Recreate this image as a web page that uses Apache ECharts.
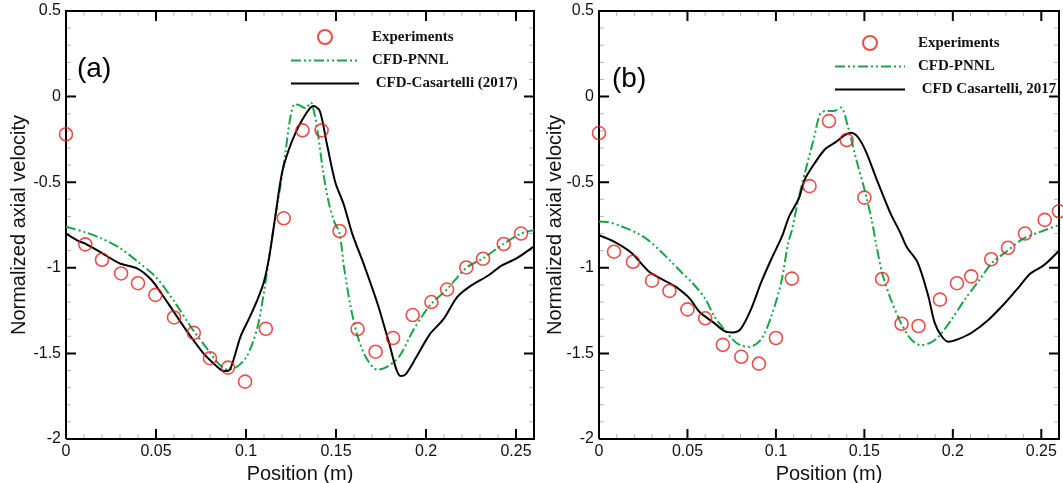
<!DOCTYPE html>
<html>
<head>
<meta charset="utf-8">
<title>Normalized axial velocity profiles</title>
<script src="https://cdn.jsdelivr.net/npm/echarts@6/dist/echarts.min.js"></script>
<style>
  html, body { margin: 0; padding: 0; background: #fff; }
  #chart { width: 1063px; height: 483px; background: #fff; }
</style>
</head>
<body>
<div id="chart"></div>
<script>
// Axis ranges and tick values (shared by both panels)
const X_MIN = 0, X_MAX = 0.26;
const Y_MIN = -2, Y_MAX = 0.5;
const xTickLabels = [0, 0.05, 0.1, 0.15, 0.2, 0.25];
const yTickLabels = [-2, -1.5, -1, -0.5, 0, 0.5];
const xMinorTicks = [0.01, 0.02, 0.03, 0.04, 0.06, 0.07, 0.08, 0.09, 0.11, 0.12, 0.13, 0.14,
                     0.16, 0.17, 0.18, 0.19, 0.21, 0.22, 0.23, 0.24];
const yMinorTicks = [-1.9, -1.8, -1.7, -1.6, -1.4, -1.3, -1.2, -1.1, -0.9, -0.8, -0.7, -0.6,
                     -0.4, -0.3, -0.2, -0.1, 0.1, 0.2, 0.3, 0.4];

// Series names
const namesA = ['Experiments', 'CFD-PNNL', ' CFD-Casartelli (2017)'];
const namesB = ['Experiments', 'CFD-PNNL', ' CFD Casartelli, 2017'];

// Panel (a): [position (m), normalized axial velocity]
const expA = [
  [0, -0.22], [0.0107, -0.863], [0.020, -0.953], [0.0306, -1.033], [0.040, -1.09],
  [0.0497, -1.158], [0.060, -1.29], [0.071, -1.38], [0.080, -1.528], [0.090, -1.583],
  [0.0995, -1.665], [0.111, -1.356], [0.121, -0.711], [0.1314, -0.197], [0.142, -0.197],
  [0.152, -0.785], [0.162, -1.358], [0.172, -1.49], [0.1817, -1.41], [0.1926, -1.276],
  [0.203, -1.20], [0.2117, -1.127], [0.2224, -0.998], [0.2317, -0.947], [0.2432, -0.861],
  [0.2528, -0.80]
];
const pnnlA = [
  [0, -0.76], [0.01, -0.79], [0.02, -0.83], [0.03, -0.885], [0.04, -0.965], [0.05, -1.055],
  [0.06, -1.195], [0.07, -1.355], [0.08, -1.495], [0.085, -1.562], [0.09, -1.595],
  [0.095, -1.578], [0.10, -1.525], [0.104, -1.43], [0.107, -1.32], [0.110, -1.14],
  [0.113, -0.93], [0.116, -0.72], [0.119, -0.53], [0.122, -0.32], [0.1245, -0.13],
  [0.127, -0.045], [0.1295, -0.05], [0.133, -0.068], [0.136, -0.035], [0.138, -0.10],
  [0.140, -0.22], [0.143, -0.45], [0.146, -0.62], [0.149, -0.73], [0.152, -0.80],
  [0.1545, -1.0], [0.158, -1.22], [0.162, -1.40], [0.167, -1.53], [0.173, -1.595],
  [0.178, -1.58], [0.185, -1.52], [0.1926, -1.37], [0.198, -1.28], [0.203, -1.21],
  [0.2117, -1.125], [0.2224, -1.0], [0.2317, -0.945], [0.2432, -0.86], [0.2528, -0.80],
  [0.26, -0.78]
];
const casA = [
  [0, -0.80], [0.0073, -0.845], [0.011, -0.86], [0.0206, -0.918], [0.030, -0.975],
  [0.0397, -1.005], [0.0474, -1.07], [0.053, -1.15], [0.0588, -1.24], [0.0665, -1.36],
  [0.076, -1.495], [0.0837, -1.575], [0.0875, -1.603], [0.0904, -1.60], [0.093, -1.54],
  [0.097, -1.40], [0.102, -1.29], [0.1066, -1.18], [0.110, -1.08], [0.113, -0.93],
  [0.116, -0.72], [0.120, -0.445], [0.1238, -0.309], [0.1276, -0.21], [0.1314, -0.133],
  [0.135, -0.074], [0.1375, -0.055], [0.141, -0.084], [0.1448, -0.27], [0.1496, -0.50],
  [0.1543, -0.63], [0.159, -0.80], [0.1658, -0.99], [0.1734, -1.22], [0.179, -1.42],
  [0.1859, -1.632], [0.1887, -1.622], [0.1945, -1.524], [0.202, -1.39], [0.2097, -1.30],
  [0.2174, -1.17], [0.225, -1.104], [0.2346, -1.045], [0.2422, -0.986], [0.25, -0.947],
  [0.26, -0.875]
];

// Panel (b)
const expB = [
  [0, -0.213], [0.0085, -0.906], [0.0192, -0.965], [0.030, -1.075], [0.0398, -1.135],
  [0.050, -1.243], [0.060, -1.295], [0.070, -1.45], [0.0804, -1.52], [0.0904, -1.56],
  [0.100, -1.41], [0.109, -1.063], [0.119, -0.523], [0.130, -0.143], [0.140, -0.254],
  [0.150, -0.59], [0.160, -1.065], [0.171, -1.327], [0.1806, -1.34], [0.1927, -1.186],
  [0.2023, -1.09], [0.2104, -1.05], [0.2217, -0.95], [0.2312, -0.883], [0.2408, -0.80],
  [0.2519, -0.72], [0.26, -0.67]
];
const pnnlB = [
  [0, -0.73], [0.0045, -0.732], [0.012, -0.755], [0.022, -0.80], [0.028, -0.84],
  [0.034, -0.895], [0.041, -0.966], [0.047, -1.03], [0.053, -1.09], [0.060, -1.18],
  [0.065, -1.28], [0.0706, -1.358], [0.0763, -1.427], [0.080, -1.452], [0.085, -1.462],
  [0.0917, -1.417], [0.0975, -1.28], [0.103, -1.084], [0.107, -0.85], [0.1088, -0.79],
  [0.1127, -0.60], [0.1165, -0.44], [0.1213, -0.25], [0.125, -0.10], [0.128, -0.084],
  [0.1328, -0.084], [0.1367, -0.064], [0.1405, -0.168], [0.1453, -0.363], [0.150, -0.54],
  [0.154, -0.715], [0.157, -0.88], [0.160, -1.03], [0.1648, -1.18], [0.1706, -1.32],
  [0.1763, -1.417], [0.182, -1.452], [0.1878, -1.436], [0.1927, -1.393], [0.1994, -1.30],
  [0.207, -1.182], [0.2148, -1.074], [0.2225, -0.967], [0.230, -0.908], [0.2398, -0.83],
  [0.2494, -0.79], [0.26, -0.75]
];
const casB = [
  [0, -0.81], [0.009, -0.85], [0.0186, -0.915], [0.028, -1.02], [0.038, -1.08],
  [0.0437, -1.113], [0.0513, -1.18], [0.057, -1.26], [0.0648, -1.32], [0.0706, -1.368],
  [0.0754, -1.378], [0.080, -1.358], [0.086, -1.24], [0.0917, -1.084], [0.0975, -0.947],
  [0.1033, -0.82], [0.1075, -0.70], [0.1128, -0.598], [0.1165, -0.48], [0.1223, -0.383],
  [0.128, -0.305], [0.1338, -0.266], [0.1386, -0.227], [0.1424, -0.211], [0.1463, -0.236],
  [0.151, -0.324], [0.1568, -0.48], [0.1645, -0.676], [0.1702, -0.793], [0.174, -0.88],
  [0.180, -0.967], [0.186, -1.16], [0.1897, -1.32], [0.1935, -1.397], [0.1974, -1.432],
  [0.203, -1.417], [0.2108, -1.378], [0.2205, -1.30], [0.230, -1.20], [0.238, -1.104],
  [0.2437, -1.035], [0.2513, -0.986], [0.26, -0.90]
];

const RED = '#e2231f';
const GREEN = '#18a54a';
const SANS = 'Liberation Sans, Arial, sans-serif';
const SERIF = 'Liberation Serif, Times New Roman, serif';
const MAJOR_LEN = 10; // px

const panels = [
  { grid: { left: 66, top: 11, width: 468, height: 428 }, yNameGap: 37,
    names: namesA, exp: expA, pnnl: pnnlA, cas: casA,
    tag: '(a)', tagPos: { left: 77, top: 55 },
    legendPos: { left: 290, top: 29 }, legendWidth: 68 },
  { grid: { left: 599, top: 11, width: 460, height: 428 }, yNameGap: 34,
    names: namesB, exp: expB, pnnl: pnnlB, cas: casB,
    tag: '(b)', tagPos: { left: 612, top: 65 },
    legendPos: { left: 834, top: 35 }, legendWidth: 70 }
];

const labelFont = () => ({ fontFamily: SANS, fontSize: 16, color: '#111' });
const nameFont = () => ({ fontFamily: SANS, fontSize: 20, color: '#111' });

// Fine inward ticks on both opposite edges
function minorTickRenderer(dim, len) {
  return function (params, api) {
    const v = api.value(0);
    const style = { stroke: '#b5b5b5', lineWidth: 1 };
    if (dim === 'x') {
      const b = api.coord([v, Y_MIN]);
      const t = api.coord([v, Y_MAX]);
      return { type: 'group', children: [
        { type: 'line', shape: { x1: b[0], y1: b[1], x2: b[0], y2: b[1] - len }, style: style },
        { type: 'line', shape: { x1: t[0], y1: t[1], x2: t[0], y2: t[1] + len }, style: style }
      ] };
    }
    const l = api.coord([X_MIN, v]);
    const r = api.coord([X_MAX, v]);
    return { type: 'group', children: [
      { type: 'line', shape: { x1: l[0], y1: l[1], x2: l[0] + len, y2: l[1] }, style: style },
      { type: 'line', shape: { x1: r[0], y1: r[1], x2: r[0] - len, y2: r[1] }, style: style }
    ] };
  };
}

// Frame outline through the four corners of the axis ranges
function framePath() {
  return [[X_MIN, Y_MIN], [X_MAX, Y_MIN], [X_MAX, Y_MAX], [X_MIN, Y_MAX], [X_MIN, Y_MIN]];
}

// Major inward ticks on all four edges, as broken polyline segments
function majorTickPath(gridBox) {
  const dy = MAJOR_LEN * (Y_MAX - Y_MIN) / gridBox.height;
  const dx = MAJOR_LEN * (X_MAX - X_MIN) / gridBox.width;
  const gap = [null, null];
  const pts = [];
  xTickLabels.forEach(v => {
    pts.push([v, Y_MIN], [v, Y_MIN + dy], gap);
    pts.push([v, Y_MAX], [v, Y_MAX - dy], gap);
  });
  yTickLabels.forEach(v => {
    pts.push([X_MIN, v], [X_MIN + dx, v], gap);
    pts.push([X_MAX, v], [X_MAX - dx, v], gap);
  });
  return pts;
}

const grid = [], xAxis = [], yAxis = [], series = [], legend = [], title = [];

panels.forEach((p, gi) => {
  grid.push(Object.assign({ outerBoundsMode: 'none' }, p.grid));

  xAxis.push({
    gridIndex: gi, type: 'value', min: X_MIN, max: X_MAX, position: 'bottom', interval: 0.05,
    splitLine: { show: false },
    axisLine: { show: false, onZero: false },
    axisTick: { show: false },
    axisLabel: Object.assign({ customValues: xTickLabels, margin: 5 }, labelFont()),
    name: 'Position (m)', nameLocation: 'middle', nameGap: 25, nameMoveOverlap: false,
    nameTextStyle: nameFont()
  });
  yAxis.push({
    gridIndex: gi, type: 'value', min: Y_MIN, max: Y_MAX, position: 'left', interval: 0.5,
    splitLine: { show: false },
    axisLine: { show: false, onZero: false },
    axisTick: { show: false },
    axisLabel: Object.assign({ customValues: yTickLabels, margin: 5 }, labelFont()),
    name: 'Normalized axial velocity', nameLocation: 'middle', nameGap: p.yNameGap,
    nameRotate: 90, nameMoveOverlap: false, nameTextStyle: nameFont()
  });

  const decor = { xAxisIndex: gi, yAxisIndex: gi, type: 'custom', silent: true, clip: false,
                  tooltip: { show: false }, z: 2 };
  series.push(Object.assign({}, decor, { data: xMinorTicks.map(v => [v]), encode: { x: 0 },
    renderItem: minorTickRenderer('x', 5) }));
  series.push(Object.assign({}, decor, { data: yMinorTicks.map(v => [v]), encode: { y: 0 },
    renderItem: minorTickRenderer('y', 5) }));

  // frame and major ticks, drawn as plain black polylines
  const inkLine = {
    type: 'line', xAxisIndex: gi, yAxisIndex: gi, symbol: 'none', showSymbol: false,
    silent: true, connectNulls: false, z: 3, tooltip: { show: false },
    emphasis: { disabled: true },
    lineStyle: { color: '#000', width: 2, cap: 'butt', join: 'miter' },
    itemStyle: { color: '#000' }
  };
  series.push(Object.assign({}, inkLine, { data: framePath() }));
  series.push(Object.assign({}, inkLine, { data: majorTickPath(p.grid) }));

  series.push({
    type: 'scatter', name: p.names[0], xAxisIndex: gi, yAxisIndex: gi,
    data: p.exp, symbol: 'circle', symbolSize: 13, z: 5,
    itemStyle: { color: 'rgba(255,255,255,0)', borderColor: RED, borderWidth: 1.6 }
  });
  series.push({
    type: 'line', name: p.names[1], xAxisIndex: gi, yAxisIndex: gi,
    data: p.pnnl, symbol: 'none', smooth: 0.3, z: 4,
    lineStyle: { color: GREEN, width: 2, type: [10, 3, 2, 3, 2, 3] },
    itemStyle: { color: GREEN }
  });
  series.push({
    type: 'line', name: p.names[2], xAxisIndex: gi, yAxisIndex: gi,
    data: p.cas, symbol: 'none', smooth: 0.3, z: 4,
    lineStyle: { color: '#000', width: 2 },
    itemStyle: { color: '#000' }
  });

  legend.push(Object.assign({
    data: [
      { name: p.names[0] },
      { name: p.names[1], itemStyle: { opacity: 0 } },
      { name: p.names[2], itemStyle: { opacity: 0 } }
    ],
    orient: 'vertical', selectedMode: false,
    itemWidth: p.legendWidth, itemHeight: 14, itemGap: 8, padding: 0,
    textStyle: { fontFamily: SERIF, fontWeight: 'bold', fontSize: 15, color: '#111', padding: [0, 0, 0, 8] }
  }, p.legendPos));

  title.push(Object.assign({
    text: p.tag, padding: 0,
    textStyle: { fontFamily: SANS, fontSize: 28, fontWeight: 'normal', color: '#000' }
  }, p.tagPos));
});

const chart = echarts.init(document.getElementById('chart'), null, { renderer: 'canvas' });
chart.setOption({
  animation: false,
  title, legend, grid, xAxis, yAxis, series
});
</script>
</body>
</html>
